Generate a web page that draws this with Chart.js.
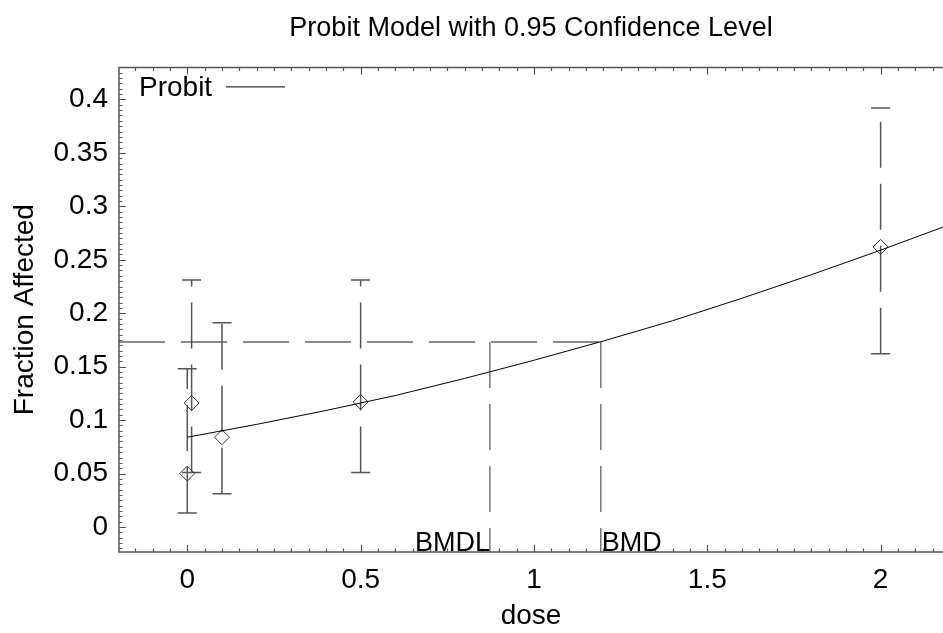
<!DOCTYPE html>
<html>
<head>
<meta charset="utf-8">
<script src="https://cdn.jsdelivr.net/npm/chart.js@4.4.1/dist/chart.umd.min.js"></script>
<style>
  html, body { margin: 0; padding: 0; background: #fff; }
  #wrap { width: 943px; height: 633px; }
</style>
</head>
<body>
<div id="wrap"><canvas id="myChart"></canvas></div>
<script>
// observed groups (dose, fraction affected, 95% limits)
const doses = [0, 0.0125, 0.1, 0.5, 2];
const fracObserved = [0.05, 0.116, 0.084, 0.117, 0.262];
const ciLower = [0.013, 0.051, 0.031, 0.051, 0.162];
const ciUpper = [0.148, 0.231, 0.191, 0.231, 0.392];

// fitted probit curve
const curveDose = [0, 0.2, 0.4, 0.6, 0.8, 1.0, 1.2, 1.4, 1.6, 1.8, 2.0, 2.2];
const curveFrac = [0.084, 0.096, 0.109, 0.123, 0.139, 0.156, 0.174, 0.193, 0.214, 0.236, 0.259, 0.283];

// benchmark level and doses
const bmr = 0.173;
const bmdl = 0.873;
const bmd = 1.193;

// axes
const xTicks = [0, 0.5, 1, 1.5, 2];
const yTicks = [0, 0.05, 0.1, 0.15, 0.2, 0.25, 0.3, 0.35, 0.4];
const xMin = -0.197, xMax = 2.18;
const yMin = -0.0234, yMax = 0.43;

const FONT = '"Liberation Sans", Arial, sans-serif';
const axisColor = '#555';
const barColor = '#555';

// error bars, one dataset each (drawn bottom to top so the dashes start at the lower cap)
const barSets = doses.map((d, i) => ({
  label: 'ci' + i,
  data: [{x: d, y: ciLower[i]}, {x: d, y: ciUpper[i]}],
  showLine: true,
  borderColor: barColor,
  borderWidth: 1.5,
  borderDash: [46, 16],
  pointStyle: 'line',
  pointRadius: 9.5,
  pointBorderWidth: 1.5,
  pointBorderColor: barColor,
}));

const chartData = {
  datasets: [
    {
      label: 'Probit',
      data: curveDose.map((d, i) => ({x: d, y: curveFrac[i]})),
      showLine: true,
      borderColor: '#000',
      borderWidth: 1,
      pointRadius: 0,
      tension: 0,
    },
    {
      label: 'observed',
      data: doses.map((d, i) => ({x: d, y: fracObserved[i]})),
      pointStyle: 'rectRot',
      pointRadius: 7.5,
      pointBorderWidth: 1,
      pointBorderColor: '#333',
      pointBackgroundColor: 'rgba(0,0,0,0)',
    },
    ...barSets,
    {
      label: 'bmr',
      data: [{x: xMin, y: bmr}, {x: bmd, y: bmr}],
      showLine: true,
      borderColor: '#666',
      borderWidth: 1.5,
      borderDash: [46, 16],
      pointRadius: 0,
    },
    {
      label: 'bmdl',
      data: [{x: bmdl, y: bmr}, {x: bmdl, y: yMin}],
      showLine: true,
      borderColor: '#333',
      borderWidth: 1,
      borderDash: [46, 16],
      pointRadius: 0,
    },
    {
      label: 'bmd',
      data: [{x: bmd, y: bmr}, {x: bmd, y: yMin}],
      showLine: true,
      borderColor: '#333',
      borderWidth: 1,
      borderDash: [46, 16],
      pointRadius: 0,
    },
  ]
};

// frame, inward ticks, legend and BMD labels
const framePlugin = {
  id: 'frame',
  afterDraw: (chart) => {
    const ctx = chart.ctx;
    const a = chart.chartArea;
    const x = chart.scales.x, y = chart.scales.y;
    ctx.save();
    ctx.strokeStyle = axisColor;
    ctx.lineWidth = 1.5;
    ctx.beginPath();
    ctx.moveTo(a.right, a.top); ctx.lineTo(a.left, a.top);
    ctx.lineTo(a.left, a.bottom); ctx.lineTo(a.right, a.bottom);
    ctx.stroke();

    ctx.lineWidth = 1.2;
    ctx.beginPath();
    for (let i = -4; i <= 44; i++) {
      const v = i * 0.05;
      if (v < xMin || v > xMax) continue;
      const px = Math.round(x.getPixelForValue(v)) + 0.5;
      const len = i % 10 === 0 ? 7 : 3.5;
      ctx.moveTo(px, a.bottom); ctx.lineTo(px, a.bottom - len);
      ctx.moveTo(px, a.top); ctx.lineTo(px, a.top + len);
    }
    for (let i = -5; i <= 87; i++) {
      const v = i * 0.005;
      if (v < yMin || v > yMax) continue;
      const py = Math.round(y.getPixelForValue(v)) + 0.5;
      const len = i % 10 === 0 ? 7 : 3.5;
      ctx.moveTo(a.left, py); ctx.lineTo(a.left + len, py);
    }
    ctx.stroke();

    // legend
    ctx.fillStyle = '#000';
    ctx.font = '28px ' + FONT;
    ctx.textAlign = 'left';
    ctx.textBaseline = 'middle';
    ctx.fillText(chart.data.datasets[0].label, a.left + 20, a.top + 21);
    ctx.strokeStyle = '#000';
    ctx.lineWidth = 1;
    ctx.beginPath();
    ctx.moveTo(a.left + 107, a.top + 19.5); ctx.lineTo(a.left + 166, a.top + 19.5);
    ctx.stroke();

    // BMDL / BMD labels
    ctx.font = '27px ' + FONT;
    ctx.textBaseline = 'alphabetic';
    ctx.textAlign = 'right';
    ctx.fillText('BMDL', x.getPixelForValue(bmdl), a.bottom - 1);
    ctx.textAlign = 'left';
    ctx.fillText('BMD', x.getPixelForValue(bmd) + 1, a.bottom - 1);
    ctx.restore();
  }
};

const config = {
  type: 'scatter',
  data: chartData,
  options: {
    responsive: true,
    maintainAspectRatio: false,
    animation: false,
    layout: { padding: 0, autoPadding: false },
    plugins: {
      legend: { display: false },
      tooltip: { enabled: false },
      title: {
        display: true,
        fullSize: false,
        text: 'Probit Model with 0.95 Confidence Level',
        color: '#000',
        font: { family: FONT, size: 27, weight: 'normal' },
        padding: { top: 12, bottom: 23 }
      }
    },
    scales: {
      x: {
        type: 'linear',
        min: xMin,
        max: xMax,
        afterBuildTicks: (s) => { s.ticks = xTicks.map(v => ({value: v})); },
        afterFit: (s) => { s.height = 81; s.paddingLeft = 0; s.paddingRight = 0; },
        grid: { display: false, drawTicks: false },
        border: { display: false },
        ticks: {
          color: '#000',
          font: { family: FONT, size: 28 },
          padding: 11,
          maxRotation: 0,
          callback: (v) => String(v)
        },
        title: {
          display: true,
          text: 'dose',
          color: '#000',
          font: { family: FONT, size: 28 },
          padding: { top: 0, bottom: 0 }
        }
      },
      y: {
        type: 'linear',
        min: yMin,
        max: yMax,
        afterBuildTicks: (s) => { s.ticks = yTicks.map(v => ({value: v})); },
        afterFit: (s) => { s.width = 119; s.paddingTop = 0; s.paddingBottom = 0; },
        grid: { display: false, drawTicks: false },
        border: { display: false },
        ticks: {
          color: '#000',
          font: { family: FONT, size: 28 },
          padding: 11,
          callback: (v) => String(v)
        },
        title: {
          display: true,
          text: 'Fraction Affected',
          color: '#000',
          font: { family: FONT, size: 28 },
          padding: { top: 8, bottom: 0 }
        }
      }
    }
  },
  plugins: [framePlugin]
};

let chart;

function createChart() {
  const ctx = document.getElementById('myChart').getContext('2d');
  if (chart) {
    chart.destroy();
  }
  chart = new Chart(ctx, config);
}

createChart();
</script>
</body>
</html>
